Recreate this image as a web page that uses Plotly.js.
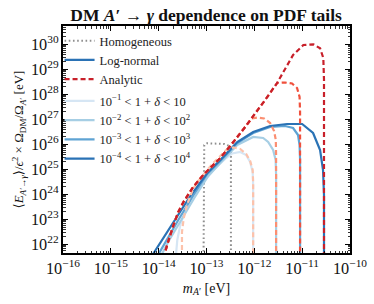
<!DOCTYPE html>
<html>
<head>
<meta charset="utf-8">
<script src="https://cdn.plot.ly/plotly-3.0.1.min.js"></script>
<style>html,body{margin:0;padding:0;background:#fff;}#chart{width:374px;height:304px;}</style>
</head>
<body>
<div id="chart"></div>
<script>
// ---- data (mass in eV, value in eV) ----
const massHomog = [8.67e-14, 8.67e-14, 8.97e-14, 1.035e-13, 1.52e-13, 2.34e-13, 2.98e-13, 3.24e-13, 3.24e-13];
const valHomog  = [2.40e21, 6.03e25, 9.55e25, 1.12e26, 1.12e26, 1.05e26, 8.71e25, 5.50e25, 2.40e21];

const massLN1 = [2.28e-14, 2.45e-14, 2.83e-14, 3.78e-14, 5.55e-14, 9.40e-14, 1.52e-13, 2.46e-13, 3.44e-13, 5.06e-13, 6.75e-13, 8.17e-13, 9.23e-13, 9.44e-13, 9.44e-13];
const valLN1  = [3.16e21, 1.51e22, 6.03e22, 2.88e23, 1.15e24, 3.80e24, 1.15e25, 2.63e25, 4.37e25, 5.01e25, 3.80e25, 2.00e25, 7.94e24, 2.40e24, 2.40e21];

const massLN2 = [1.084e-14, 1.667e-14, 2.97e-14, 5.55e-14, 1.086e-13, 2.13e-13, 4.39e-13, 9.46e-13, 1.53e-12, 1.945e-12, 2.47e-12, 2.79e-12, 2.85e-12, 2.85e-12];
const valLN2  = [3.16e21, 1.51e22, 9.55e22, 7.24e23, 5.50e24, 2.19e25, 9.55e25, 2.00e26, 1.82e26, 1.26e26, 6.03e25, 2.40e25, 6.03e24, 2.40e21];

const massLN3 = [9.16e-15, 1.445e-14, 2.57e-14, 5.04e-14, 1.035e-13, 1.94e-13, 4.39e-13, 9.46e-13, 2.14e-12, 4.40e-12, 6.46e-12, 8.20e-12, 8.83e-12, 9.04e-12, 9.04e-12];
const valLN3  = [3.16e21, 1.51e22, 9.55e22, 7.94e23, 6.61e24, 2.19e25, 1.15e26, 2.88e26, 5.01e26, 5.50e26, 4.57e26, 2.40e26, 9.55e25, 2.40e25, 2.40e21];

const massLN4 = [6.97e-15, 1.25e-14, 2.23e-14, 4.58e-14, 1.035e-13, 1.94e-13, 4.39e-13, 9.46e-13, 2.14e-12, 4.84e-12, 1.0e-11, 1.69e-11, 2.37e-11, 2.73e-11, 2.86e-11, 2.86e-11];
const valLN4  = [3.16e21, 1.82e22, 1.05e23, 8.71e23, 7.24e24, 2.40e25, 1.26e26, 3.16e26, 5.50e26, 6.61e26, 6.61e26, 2.88e26, 6.03e25, 9.55e24, 9.55e23, 2.40e21];

const massAN1 = [3.07e-14, 3.07e-14, 3.07e-14, 3.35e-14, 3.91e-14, 4.58e-14, 5.37e-14, 6.73e-14, 8.55e-14, 1.38e-13, 1.94e-13, 2.58e-13, 3.61e-13, 5.06e-13, 6.75e-13, 8.18e-13, 9.23e-13, 9.44e-13, 9.44e-13];
const valAN1  = [2.88e21, 9.55e21, 3.16e22, 1.15e23, 3.80e23, 8.71e23, 1.82e24, 3.47e24, 6.03e24, 1.82e25, 3.47e25, 6.03e25, 7.59e25, 6.61e25, 4.17e25, 2.19e25, 9.55e24, 3.16e24, 2.40e21];

const massAN2 = [1.25e-14, 1.377e-14, 1.667e-14, 2.05e-14, 2.57e-14, 3.32e-14, 5.28e-14, 8.55e-14, 1.94e-13, 3.13e-13, 6.43e-13, 8.87e-13, 1.20e-12, 1.60e-12, 2.14e-12, 2.59e-12, 2.81e-12, 2.85e-12, 2.85e-12];
const valAN2  = [2.88e21, 5.50e21, 1.82e22, 6.03e22, 2.00e23, 5.13e23, 2.00e24, 6.03e24, 2.88e25, 8.71e25, 5.01e26, 1.10e27, 1.20e27, 1.10e27, 7.24e26, 3.47e26, 1.51e26, 3.80e25, 2.40e21];

const massAN3 = [1.25e-14, 1.377e-14, 1.667e-14, 2.05e-14, 2.57e-14, 3.32e-14, 5.28e-14, 8.55e-14, 1.94e-13, 3.13e-13, 6.43e-13, 1.68e-12, 2.99e-12, 4.40e-12, 6.15e-12, 7.83e-12, 8.83e-12, 9.04e-12, 9.04e-12];
const valAN3  = [2.88e21, 5.50e21, 1.82e22, 6.03e22, 2.00e23, 5.13e23, 2.00e24, 6.03e24, 2.88e25, 8.71e25, 5.01e26, 6.03e27, 2.88e28, 3.02e28, 2.75e28, 1.82e28, 7.94e27, 2.00e27, 2.40e21];

const massAN4 = [1.25e-14, 1.377e-14, 1.667e-14, 2.05e-14, 2.57e-14, 3.32e-14, 5.28e-14, 8.55e-14, 1.94e-13, 3.13e-13, 6.43e-13, 1.68e-12, 2.99e-12, 6.46e-12, 1.06e-11, 1.71e-11, 2.37e-11, 2.77e-11, 2.86e-11, 2.86e-11];
const valAN4  = [2.88e21, 5.50e21, 1.82e22, 6.03e22, 2.00e23, 5.13e23, 2.00e24, 6.03e24, 2.88e25, 8.71e25, 5.01e26, 6.03e27, 2.88e28, 3.80e29, 9.55e29, 1.02e30, 7.08e29, 2.88e29, 3.80e28, 2.40e21];

const rangeLabels = [
  '10<sup>\u22121</sup> < 1 + <i>\u03b4</i> < 10',
  '10<sup>\u22122</sup> < 1 + <i>\u03b4</i> < 10<sup>2</sup>',
  '10<sup>\u22123</sup> < 1 + <i>\u03b4</i> < 10<sup>3</sup>',
  '10<sup>\u22124</sup> < 1 + <i>\u03b4</i> < 10<sup>4</sup>'
];
const styleLabels = ['Homogeneous', 'Log-normal', 'Analytic'];

// ---- styles ----
const FONT = '"Liberation Serif", "DejaVu Serif", serif';
const blues = ['#d6e6f4', '#a6cee4', '#5fa3d3', '#2a72b5'];
const reds  = ['#fcc2ab', '#fb8f72', '#f0503c', '#c8202a'];
const LW = 2.2;
const DASH = '5px,3px';

const traces = [];
traces.push({x: massHomog, y: valHomog, mode: 'lines', name: styleLabels[0], legend: 'legend', legendrank: 1,
  line: {color: '#8e8e8e', width: 2, dash: '1.6px,2.6px'}});
// legend-only style sample for Log-normal
traces.push({x: [null], y: [null], mode: 'lines', name: styleLabels[1], legend: 'legend', legendrank: 2,
  line: {color: blues[3], width: LW}});

const lnM = [massLN1, massLN2, massLN3, massLN4];
const lnV = [valLN1, valLN2, valLN3, valLN4];
for (let i = 0; i < 4; i++) {
  traces.push({x: lnM[i], y: lnV[i], mode: 'lines', name: rangeLabels[i], legend: 'legend2', legendrank: 10 + i,
    line: {color: blues[i], width: LW}});
}
const anM = [massAN1, massAN2, massAN3, massAN4];
const anV = [valAN1, valAN2, valAN3, valAN4];
for (let i = 0; i < 4; i++) {
  traces.push({x: anM[i], y: anV[i], mode: 'lines', name: i === 3 ? styleLabels[2] : rangeLabels[i],
    legend: 'legend', legendrank: 3, showlegend: i === 3,
    line: {color: reds[i], width: LW, dash: DASH}});
}

const axisCommon = {
  type: 'log', dtick: 1, exponentformat: 'power', showexponent: 'all',
  showline: true, linecolor: '#000', linewidth: 1.8, mirror: 'allticks',
  ticks: 'inside', ticklen: 5, tickwidth: 1, tickcolor: '#000',
  showgrid: false, zeroline: false,
  tickfont: {family: FONT, size: 13, color: '#111'},
  minor: {ticks: 'inside', ticklen: 2.5, tickwidth: 0.8, tickcolor: '#000', showgrid: false}
};

const layout = {
  width: 374, height: 304,
  margin: {l: 62.5, r: 24, t: 26, b: 51, pad: 0},
  paper_bgcolor: '#fff', plot_bgcolor: '#fff',
  font: {family: FONT, color: '#111'},
  title: {text: '<b>DM <i>A</i>\u2032 \u2192 <i>\u03b3</i> dependence on PDF tails</b>',
    font: {family: FONT, size: 17.5, color: '#111'}, x: 0.551, xanchor: 'center', y: 0.95, yanchor: 'middle'},
  xaxis: Object.assign({}, axisCommon, {range: [-16, -10],
    title: {text: '<i>m</i><sub><i>A</i>\u2032</sub> [eV]', font: {family: FONT, size: 14}, standoff: 6}}),
  yaxis: Object.assign({}, axisCommon, {range: [21.66, 30.74],
    title: {text: '\u27e8<i>E</i><sub><i>A</i>\u2032\u2192<i>\u03b3</i></sub>\u27e9/<i>\u03f5</i><sup>2</sup> \u00d7 \u03a9<sub>DM</sub>/\u03a9<sub><i>A</i>\u2032</sub> [eV]',
      font: {family: FONT, size: 13}, standoff: 4}}),
  showlegend: true,
  legend: {x: -0.012, y: 1.0, xanchor: 'left', yanchor: 'top', bgcolor: 'rgba(0,0,0,0)',
    font: {family: FONT, size: 12.5, color: '#222'}, traceorder: 'normal', tracegroupgap: 0},
  legend2: {x: -0.012, y: 0.735, xanchor: 'left', yanchor: 'top', bgcolor: 'rgba(0,0,0,0)',
    font: {family: FONT, size: 12.5, color: '#222'}, traceorder: 'normal', tracegroupgap: 0}
};

Plotly.newPlot('chart', traces, layout, {displayModeBar: false, staticPlot: true});
</script>
</body>
</html>
